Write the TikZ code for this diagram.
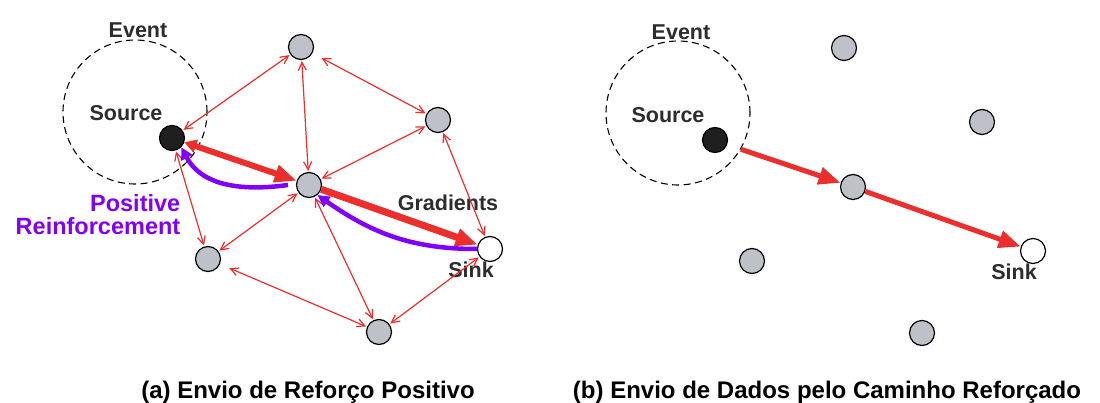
\documentclass[tikz,border=0pt]{standalone}
\usepackage{fontspec}
\setmainfont{Liberation Sans}
\usepackage{tikz}
\usetikzlibrary{arrows.meta, positioning}
\definecolor{nodegray}{RGB}{190,194,200}
\definecolor{gradred}{RGB}{236,46,44}
\definecolor{reinfviolet}{RGB}{128,0,255}
\definecolor{labelgray}{RGB}{45,45,45}
\tikzset{
    sensor/.style={circle, draw, fill=nodegray, minimum size=25pt, inner sep=0pt, line width=1.2pt},
    sourceNode/.style={sensor, fill=black!88},
    sinkNode/.style={sensor, fill=white},
    eventArea/.style={circle, draw, line width=1.1pt, dash pattern=on 7pt off 4.5pt, minimum size=144pt, inner sep=0pt},
    link/.style={draw=gradred, line width=1.2pt, {Straight Barb[length=8pt,width=8pt]}-{Straight Barb[length=8pt,width=8pt]}, shorten >=1pt, shorten <=1pt},
    grad/.style={draw=gradred, line width=6pt, -{Triangle[length=22pt,width=17pt]}},
    reinf/.style={draw=reinfviolet, line width=4.5pt, -{Triangle[length=12pt,width=12pt]}},
    nodeLabel/.style={font=\fontsize{21.5}{24}\selectfont\bfseries, text=labelgray, inner sep=0pt},
    reinfLabel/.style={font=\fontsize{23.5}{23}\selectfont\bfseries, text=reinfviolet, inner sep=0pt, align=right},
    caption/.style={font=\fontsize{24}{28}\selectfont\bfseries, inner sep=0pt, anchor=base}
}

\begin{document}
\begin{tikzpicture}[x=1pt, y=-1pt]
    \useasboundingbox (0,0) rectangle (1100,403);

    % (a) Nodes
    \node [eventArea] (evA) at (135,112) {};
    \node [nodeLabel] (evAlbl) at (138,30) {Event};
    \node [nodeLabel] (srcAlbl) at (126,113) {Source};
    \node [sourceNode] (srcA) at (172,138) {};
    \node [sensor] (topA) at (301,47) {};
    \node [sensor] (rightA) at (438,120) {};
    \node [sensor] (midA) at (309,185) {};
    \node [sensor] (leftA) at (208,259) {};
    \node [sensor] (botA) at (379,332) {};
    \node [sinkNode] (snkA) at (490,249) {};
    \node [nodeLabel] (snkAlbl) at (471,270) {Sink};
    \node [nodeLabel] (gradlbl) at (448,203) {Gradients};
    \node [reinfLabel] (reinflbl) at (98,215) {Positive\\Reinforcement};

    % (a) Interests
    \path [link] (srcA) -- (topA);
    \path [link] (topA) -- (midA);
    \path [link, shorten <=10pt] (topA) -- (rightA);
    \path [link] (rightA) -- (midA);
    \path [link] (rightA) -- (snkA);
    \path [link] (srcA) -- (leftA);
    \path [link] (leftA) -- (midA);
    \path [link, shorten <=10pt] (leftA) -- (botA);
    \path [link] (midA) -- (botA);
    \path [link] (snkA) -- (botA);

    % (a) Gradients and reinforcement
    \path [grad, {Triangle[length=12pt,width=13pt]}-{Triangle[length=22pt,width=17pt]}] (srcA) -- (midA);
    \path [grad, line width=7pt] (midA) -- (snkA);
    \draw [reinf, shorten <=8pt] (midA.175) to[out=188, in=-62] (srcA.-45);
    \draw [reinf] (snkA.west) to[out=180, in=-35] (midA.-50);

    % (b) Nodes
    \node [eventArea] (evB) at (678,113) {};
    \node [nodeLabel] (evBlbl) at (681,32) {Event};
    \node [nodeLabel] (srcBlbl) at (668,115) {Source};
    \node [sourceNode] (srcB) at (715,140) {};
    \node [sensor] (topB) at (844,48) {};
    \node [sensor] (rightB) at (982,122) {};
    \node [sensor] (midB) at (853,187) {};
    \node [sensor] (leftB) at (752,261) {};
    \node [sensor] (botB) at (922,333) {};
    \node [sinkNode] (snkB) at (1033,251) {};
    \node [nodeLabel] (snkBlbl) at (1014,272) {Sink};

    % (b) Reinforced path
    \path [grad, line width=5pt] (evB.-30) -- (midB);
    \path [grad, line width=5pt] (midB) -- (snkB);

    % Captions
    \node [caption] (capA) at (308,398) {(a) Envio de Reforço Positivo};
    \node [caption] (capB) at (827,398) {(b) Envio de Dados pelo Caminho Reforçado};
\end{tikzpicture}
\end{document}
